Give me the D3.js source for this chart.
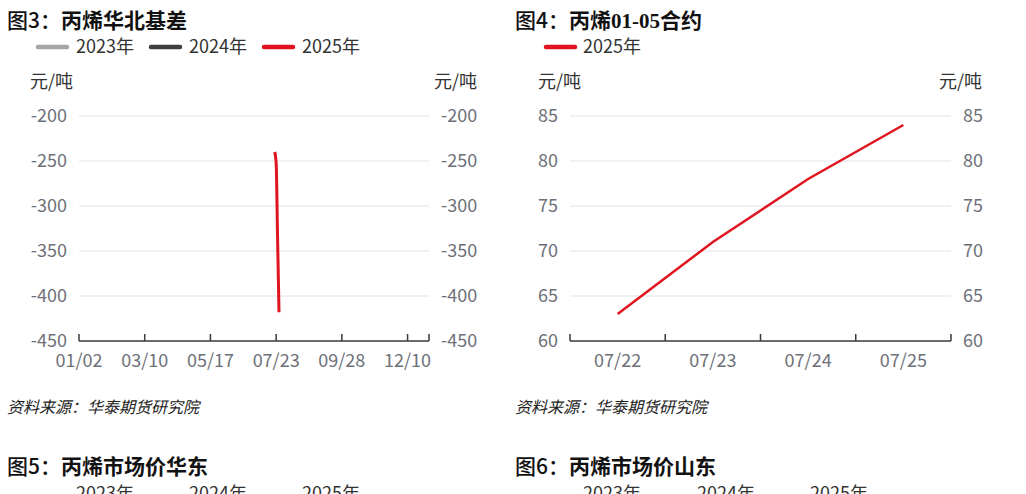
<!DOCTYPE html>
<html>
<head>
<meta charset="utf-8">
<script src="https://cdn.jsdelivr.net/npm/d3@7"></script>
<style>
  body { margin: 0; background: #fff; }
  svg { display: block; }
  text { font-family: "Noto Sans CJK SC", "Noto Sans", sans-serif; }
</style>
</head>
<body>
<div id="chart"></div>
<script>
const W = 1026, H = 494;

// 图3：丙烯华北基差
const basisTickLabels = ['01/02', '03/10', '05/17', '07/23', '09/28', '12/10'];
const basisTickIndex = [0, 46, 92, 138, 184, 230];
const basisLastIndex = 245;
const basisIdx2025 = [137, 138, 139, 140];
const basis2025 = [-240, -252, -335, -418];
const basisYTicks = [-450, -400, -350, -300, -250, -200];

// 图4：丙烯01-05合约
const spreadDates = ['07/22', '07/23', '07/24', '07/25'];
const spread2025 = [63, 71, 78, 84];
const spreadYTicks = [60, 65, 70, 75, 80, 85];

const years = ['2023年', '2024年', '2025年'];
const yearColors = ['#a5a5a5', '#3f3f3f', '#e0141e'];

const GRID = '#dfe3ef', AXIS = '#3a3a3a', LABEL = '#6e7079', INK = '#333';

const svg = d3.select('#chart').append('svg').attr('width', W).attr('height', H);

function title(x, y, parts) {
  const t = svg.append('text').attr('x', x).attr('y', y).attr('font-size', 21).attr('fill', '#111');
  parts.forEach(p => t.append('tspan').text(p.t).attr('font-weight', p.w || 700)
    .attr('font-family', p.f || null));
}

function legend(items, swX, txX, cy, showSwatch = true) {
  items.forEach((it, i) => {
    if (showSwatch) {
      svg.append('line').attr('x1', swX[i]).attr('x2', swX[i] + 29).attr('y1', cy).attr('y2', cy)
        .attr('stroke', it.color).attr('stroke-width', 4.5).attr('stroke-linecap', 'round');
    }
    svg.append('text').attr('x', txX[i]).attr('y', cy).attr('dy', '0.35em')
      .attr('font-size', 18).attr('fill', INK).text(it.name);
  });
}

function source(x) {
  svg.append('text').attr('x', x).attr('y', 407).attr('dy', '0.35em').attr('font-size', 16)
    .attr('font-style', 'italic').attr('fill', '#222').text('资料来源：华泰期货研究院');
}

function yAxes(y, ticks, x0, x1, unitL, unitR) {
  const g = svg.append('g');
  g.selectAll('line.grid').data(ticks.slice(1)).join('line').attr('class', 'grid')
    .attr('x1', x0).attr('x2', x1).attr('y1', d => y(d)).attr('y2', d => y(d))
    .attr('stroke', GRID).attr('stroke-width', 1.2);
  const fmt = d => String(d);  // plain hyphen, as in the source chart
  const left = d3.axisLeft(y).tickValues(ticks).tickFormat(fmt).tickSize(0).tickPadding(12);
  const right = d3.axisRight(y).tickValues(ticks).tickFormat(fmt).tickSize(0).tickPadding(12);
  [[left, x0], [right, x1]].forEach(([ax, tx]) => {
    const a = svg.append('g').attr('transform', `translate(${tx},0)`).call(ax);
    a.select('.domain').remove();
    a.selectAll('text').attr('font-size', 18).attr('fill', LABEL)
      .attr('font-family', '"Noto Sans CJK SC", "Noto Sans", sans-serif');
  });
  svg.append('text').attr('x', unitL).attr('y', 82).attr('dy', '0.35em').attr('font-size', 18)
    .attr('fill', INK).text('元/吨');
  svg.append('text').attr('x', unitR).attr('y', 82).attr('dy', '0.35em').attr('font-size', 18)
    .attr('text-anchor', 'end').attr('fill', INK).text('元/吨');
}

function xAxisLine(x0, x1, yPos, tickXs) {
  svg.append('line').attr('x1', x0).attr('x2', x1).attr('y1', yPos).attr('y2', yPos)
    .attr('stroke', AXIS).attr('stroke-width', 1.5);
  svg.selectAll(null).data(tickXs).join('line')
    .attr('x1', d => d).attr('x2', d => d).attr('y1', yPos - 7).attr('y2', yPos)
    .attr('stroke', AXIS).attr('stroke-width', 1.5);
}

// ---------- chart 3 ----------
{
  const x = d3.scaleLinear().domain([0, basisLastIndex]).range([79, 429]);
  const y = d3.scaleLinear().domain([-450, -200]).range([341, 116]);
  title(7, 28, [{ t: '图3：', w: 500 }, { t: '丙烯华北基差' }]);
  legend(years.map((n, i) => ({ name: n, color: yearColors[i] })), [38, 151, 264], [76, 189, 302], 47);
  yAxes(y, basisYTicks, 79, 429, 30, 477);
  xAxisLine(79, 429, y(-450), basisTickIndex.map(x).concat([x(basisLastIndex)]));
  svg.selectAll(null).data(basisTickLabels).join('text')
    .attr('x', (d, i) => x(basisTickIndex[i])).attr('y', 361).attr('dy', '0.35em')
    .attr('text-anchor', 'middle').attr('font-size', 18).attr('fill', LABEL).text(d => d);
  const line = d3.line().x(d => x(d[0])).y(d => y(d[1])).curve(d3.curveMonotoneX);
  svg.append('path').datum(basisIdx2025.map((d, i) => [d, basis2025[i]]))
    .attr('d', line).attr('fill', 'none').attr('stroke', yearColors[2]).attr('stroke-width', 3);
  source(7);
}

// ---------- chart 4 ----------
{
  const x = d3.scaleBand().domain(spreadDates).range([570, 951]);
  const y = d3.scaleLinear().domain([60, 85]).range([341, 116]);
  title(515, 28, [{ t: '图4：', w: 500 }, { t: '丙烯' }, { t: '01-05', f: '"Liberation Serif", serif' }, { t: '合约' }]);
  legend([{ name: years[2], color: yearColors[2] }], [546], [583], 47);
  yAxes(y, spreadYTicks, 570, 951, 538, 982);
  const bounds = spreadDates.map(d => x(d)).concat([x.range()[1]]);
  xAxisLine(570, 951, y(60), bounds);
  svg.selectAll(null).data(spreadDates).join('text')
    .attr('x', d => x(d) + x.bandwidth() / 2).attr('y', 361).attr('dy', '0.35em')
    .attr('text-anchor', 'middle').attr('font-size', 18).attr('fill', LABEL).text(d => d);
  const line = d3.line().x((d, i) => x(spreadDates[i]) + x.bandwidth() / 2).y(d => y(d));
  svg.append('path').datum(spread2025).attr('d', line).attr('fill', 'none')
    .attr('stroke', yearColors[2]).attr('stroke-width', 2.5);
  source(515);
}

// ---------- next row (cut off by the window, as in the source page) ----------
title(7, 474, [{ t: '图5：', w: 500 }, { t: '丙烯市场价华东' }]);
title(515, 474, [{ t: '图6：', w: 500 }, { t: '丙烯市场价山东' }]);
legend(years.map((n, i) => ({ name: n, color: yearColors[i] })), [38, 151, 264], [76, 189, 302], 494, false);
legend(years.map((n, i) => ({ name: n, color: yearColors[i] })), [545, 659, 772], [583, 697, 810], 494, false);
</script>
</body>
</html>
